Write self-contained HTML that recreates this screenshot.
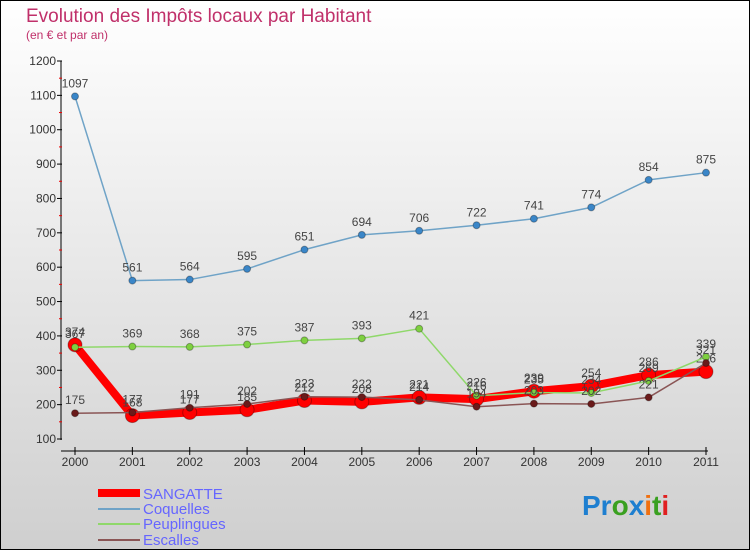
<!DOCTYPE html>
<html><head><meta charset="utf-8"><style>
html,body{margin:0;padding:0}
body{width:750px;height:550px;overflow:hidden;font-family:"Liberation Sans",sans-serif}
svg{display:block}
</style></head><body>
<svg id="chart" width="750" height="550" xmlns="http://www.w3.org/2000/svg" font-family="Liberation Sans, sans-serif">
<defs><linearGradient id="bg" x1="0" y1="0" x2="0" y2="1"><stop offset="0" stop-color="#ffffff"/><stop offset="1" stop-color="#cfcfcf"/></linearGradient></defs>
<rect x="0.5" y="0.5" width="749" height="549" fill="url(#bg)" stroke="#000"/>
<text x="26" y="22" font-size="19" fill="#c0306a">Evolution des Impôts locaux par Habitant</text>
<text x="26" y="39" font-size="12" fill="#c0306a">(en € et par an)</text>
<g id="axes"></g>
<g id="series"></g>
<g id="legend">
<rect x="98" y="489" width="42" height="8" fill="#f00"/>
<text x="143" y="499" font-size="15" fill="#6666ff">SANGATTE</text>
<line x1="98" y1="509" x2="140" y2="509" stroke="#6fa3c7" stroke-width="2"/>
<text x="143" y="514" font-size="15" fill="#6666ff">Coquelles</text>
<line x1="98" y1="524" x2="140" y2="524" stroke="#8fd86a" stroke-width="2"/>
<text x="143" y="529" font-size="15" fill="#6666ff">Peuplingues</text>
<line x1="98" y1="540" x2="140" y2="540" stroke="#8a5555" stroke-width="2"/>
<text x="143" y="545" font-size="15" fill="#6666ff">Escalles</text>
</g>
<text x="582" y="515" font-size="28" font-weight="bold"><tspan fill="#1e7fd0">Pr</tspan><tspan fill="#3aa020">o</tspan><tspan fill="#1e7fd0">x</tspan><tspan fill="#f07010">i</tspan><tspan fill="#3aa020">t</tspan><tspan fill="#e02020">i</tspan></text>
</svg>
<script>
const years=[2000,2001,2002,2003,2004,2005,2006,2007,2008,2009,2010,2011];
const yTicks=[100,200,300,400,500,600,700,800,900,1000,1100,1200];
const sangatte=[374,168,177,185,212,208,221,216,239,254,286,296];
const coquelles=[1097,561,564,595,651,694,706,722,741,774,854,875];
const peuplingues=[367,369,368,375,387,393,421,226,235,234,269,339];
const escalles=[175,177,191,202,223,222,214,194,203,202,221,321];
const NS="http://www.w3.org/2000/svg";
const X=i=>75+i*(706-75)/(years.length-1);
const Y=v=>439-(v-100)*(439-61)/1100;
function mk(t,a,p){const e=document.createElementNS(NS,t);for(const k in a)e.setAttribute(k,a[k]);p.appendChild(e);return e;}
const ax=document.getElementById('axes');
let e=mk('line',{x1:61,y1:61,x2:61,y2:440,stroke:'#000'},ax);


e=mk('line',{x1:61,y1:451,x2:708,y2:451,stroke:'#000'},ax);


yTicks.forEach((v,i)=>{
  mk('line',{x1:57,y1:Y(v),x2:62,y2:Y(v),stroke:'#000'},ax);
  const t=mk('text',{x:56,y:Y(v)+4,'font-size':12,'text-anchor':'end',fill:'#333'},ax);
  t.textContent=v;
  
  
  if(i<yTicks.length-1)mk('line',{x1:59,y1:Y(v+50),x2:62,y2:Y(v+50),stroke:'#e00'},ax);
});
years.forEach((yr,i)=>{
  mk('line',{x1:X(i),y1:447,x2:X(i),y2:455,stroke:'#000'},ax);
  const t=mk('text',{x:X(i),y:466,'font-size':12,'text-anchor':'middle',fill:'#333'},ax);
  t.textContent=yr;
  
  
});
const sg=document.getElementById('series');
function draw(vals,name,color,w,r,dot){
  const g=mk('g',{},sg);
  
  
  const pl=mk('polyline',{points:vals.map((v,i)=>X(i)+','+Y(v)).join(' '),fill:'none',stroke:color,'stroke-width':w,'stroke-linejoin':'round'},g);
  
  
  vals.forEach((v,i)=>{
    const c=mk('circle',{cx:X(i),cy:Y(v),r:r,fill:dot,stroke:'rgba(0,0,0,0.3)'},g);
    
    
    const t=mk('text',{x:X(i),y:Y(v)-9,'font-size':12,'text-anchor':'middle',fill:'#444'},g);
    t.textContent=v;
    
    
  });
}
draw(coquelles,'coquelles','#6fa3c7',1.5,3.5,'#3a86c8');
draw(sangatte,'sangatte','#f00',8,7,'#f00');
draw(peuplingues,'peuplingues','#8fd86a',1.5,3.5,'#7ed040');
draw(escalles,'escalles','#8a5555',1.5,3.5,'#6a1a1a');
</script>
</body></html>
